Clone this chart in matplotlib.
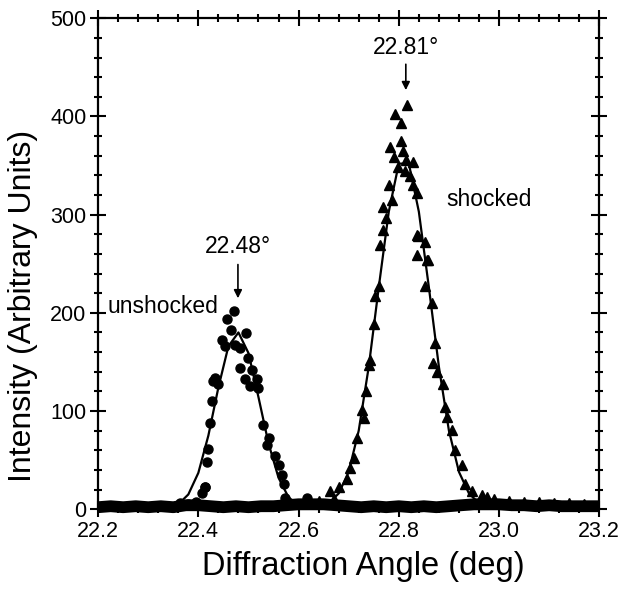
import numpy as np
import matplotlib
matplotlib.use("Agg")
import matplotlib.pyplot as plt
from matplotlib.ticker import MultipleLocator

plt.rcParams['font.family'] = ['Liberation Sans', 'DejaVu Sans']

## unshocked data (circles)
unshocked_x = [22.364, 22.380, 22.395, 22.407, 22.413, 22.414, 22.417, 22.420, 22.424, 22.427, 22.430,
               22.434, 22.440, 22.447, 22.453, 22.458, 22.465, 22.471, 22.473, 22.483,
               22.483, 22.493, 22.495, 22.500, 22.503, 22.507, 22.517, 22.520, 22.530,
               22.537, 22.540, 22.553, 22.560, 22.567, 22.570, 22.573, 22.617]
unshocked_y = [6, 5, 7, 16, 23, 23, 48, 61, 88, 110, 131,
               134, 128, 172, 166, 194, 183, 202, 167, 164,
               144, 133, 179, 154, 125, 142, 133, 123, 86,
               65, 72, 54, 45, 35, 26, 11, 11]

## shocked data (triangles)
shocked_x = [22.620, 22.640, 22.663, 22.670, 22.680, 22.696, 22.703, 22.710, 22.716,
             22.726, 22.730, 22.735, 22.740, 22.742, 22.750, 22.753, 22.760, 22.763,
             22.768, 22.769, 22.775, 22.781, 22.783, 22.786, 22.791, 22.793, 22.799,
             22.804, 22.804, 22.809, 22.813, 22.815, 22.817, 22.823, 22.829, 22.829,
             22.836, 22.837, 22.837, 22.839, 22.853, 22.853, 22.856, 22.859, 22.866,
             22.869, 22.873, 22.876, 22.889, 22.893, 22.896, 22.906, 22.913, 22.926,
             22.933, 22.946, 22.966, 22.975, 22.990, 23.020, 23.050, 23.080, 23.110,
             23.140, 23.170]
shocked_y = [9, 8, 19, 10, 23, 31, 42, 52, 72,
             101, 93, 120, 147, 152, 189, 217, 227, 269,
             284, 308, 297, 330, 369, 315, 359, 403, 349,
             393, 375, 365, 344, 356, 412, 339, 354, 330,
             259, 322, 279, 278, 272, 227, 254, 254, 210,
             149, 169, 140, 128, 104, 94, 81, 60, 45,
             26, 19, 14, 12, 10, 8, 7, 7, 6,
             6, 5]

## fitted curves
fit1_x = [22.20, 22.34, 22.36, 22.38, 22.40, 22.42, 22.44, 22.46, 22.48, 22.50,
          22.52, 22.54, 22.56, 22.58, 22.60, 22.62]
fit1_y = [0, 1, 5, 15, 37, 75, 124, 166, 180, 159,
          114, 67, 32, 12, 4, 1]
fit2_x = [22.60, 22.64, 22.66, 22.68, 22.70, 22.72, 22.74, 22.76, 22.78, 22.80,
          22.82, 22.84, 22.86, 22.88, 22.90, 22.92, 22.94, 22.96, 22.98, 23.00, 23.20]
fit2_y = [0, 2, 6, 16, 38, 80, 145, 226, 303, 352,
          352, 303, 226, 145, 80, 38, 16, 6, 2, 1, 0]

## baseline noise
base_x = [22.200, 22.225, 22.250, 22.275, 22.300, 22.325, 22.350, 22.375, 22.400, 22.425,
          22.450, 22.475, 22.500, 22.525, 22.550, 22.575, 22.600, 22.625, 22.650, 22.675,
          22.700, 22.725, 22.750, 22.775, 22.800, 22.825, 22.850, 22.875, 22.900, 22.925,
          22.950, 22.975, 23.000, 23.025, 23.050, 23.075, 23.100, 23.125, 23.150, 23.175, 23.200]
base_y = [2, 3, 2, 3, 2, 3, 2, 4, 4, 3,
          2, 3, 2, 3, 3, 4, 5, 5, 5, 4,
          3, 2, 3, 2, 3, 2, 3, 2, 3, 4,
          5, 5, 5, 4, 4, 3, 4, 3, 3, 3, 3]

fig = plt.figure(figsize=(6.21, 5.9), dpi=100)
ax = fig.add_axes([0.158, 0.137, 0.807, 0.832])

ax.plot(base_x, base_y, color='black', lw=8.5, solid_capstyle='butt', zorder=2, clip_on=False)
ax.plot(fit1_x, fit1_y, color='black', lw=1.6, zorder=3)
ax.plot(fit2_x, fit2_y, color='black', lw=1.6, zorder=3)
ax.plot(unshocked_x, unshocked_y, 'o', color='black', ms=6.5, zorder=4)
ax.plot(shocked_x, shocked_y, '^', color='black', ms=7, zorder=4)

ax.annotate('', xy=(22.479, 212), xytext=(22.479, 252),
            arrowprops=dict(arrowstyle='-|>', color='black', lw=1.2, mutation_scale=12))
ax.text(22.479, 268, '22.48°', ha='center', va='center', fontsize=16.5)
ax.annotate('', xy=(22.814, 424), xytext=(22.814, 456),
            arrowprops=dict(arrowstyle='-|>', color='black', lw=1.2, mutation_scale=12))
ax.text(22.814, 470, '22.81°', ha='center', va='center', fontsize=16.5)
ax.text(22.33, 206, 'unshocked', ha='center', va='center', fontsize=16.5)
ax.text(22.98, 315, 'shocked', ha='center', va='center', fontsize=16.5)

ax.set_xlim(22.2, 23.2)
ax.set_ylim(0, 500)
ax.xaxis.set_minor_locator(MultipleLocator(0.04))
ax.yaxis.set_major_locator(MultipleLocator(100))
ax.yaxis.set_minor_locator(MultipleLocator(20))
ax.set_xticks([22.2, 22.4, 22.6, 22.8, 23.0, 23.2])
ax.set_xticklabels(['22.2', '22.4', '22.6', '22.8', '23.0', '23.2'])
ax.tick_params(which='both', direction='inout', top=True, right=True, width=1.5, labelsize=15.5)
ax.tick_params(which='major', length=11, pad=3)
ax.tick_params(which='minor', length=6)
for s in ax.spines.values():
    s.set_linewidth(1.6)

ax.set_xlabel('Diffraction Angle (deg)', fontsize=23.5)
ax.set_ylabel('Intensity (Arbitrary Units)', fontsize=23)
ax.xaxis.set_label_coords(0.53, -0.085)
ax.yaxis.set_label_coords(-0.12, 0.415)

fig.savefig('out.png', dpi=100)
